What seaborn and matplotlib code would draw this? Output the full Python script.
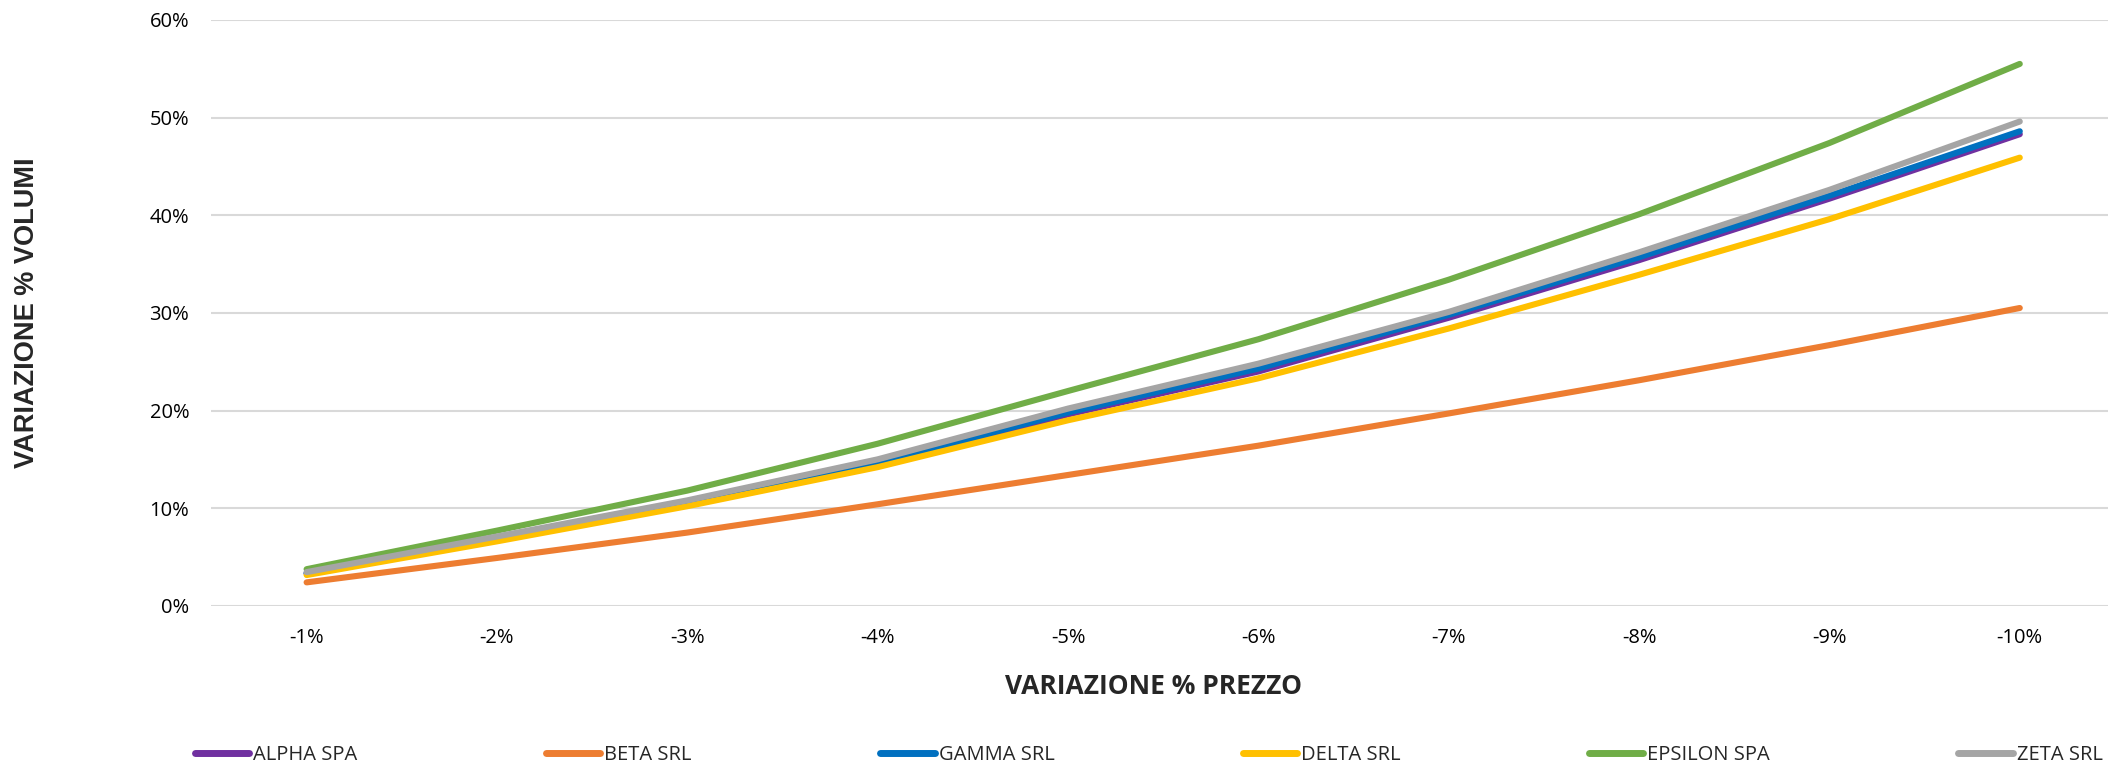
import matplotlib
matplotlib.use("Agg")
import matplotlib.pyplot as plt
from matplotlib.ticker import FuncFormatter
import pandas as pd
import seaborn as sns

# price change categories (x) and volume change per company (%)
prezzo = ["-1%", "-2%", "-3%", "-4%", "-5%", "-6%", "-7%", "-8%", "-9%", "-10%"]
alpha_spa = [3.3, 6.8, 10.5, 14.4, 19.6, 24.0, 29.5, 35.4, 41.7, 48.3]
beta_srl = [2.4, 4.9, 7.5, 10.4, 13.4, 16.4, 19.7, 23.1, 26.7, 30.5]
gamma_srl = [3.35, 6.9, 10.6, 14.6, 19.8, 24.3, 29.8, 35.7, 42.0, 48.6]
delta_srl = [3.15, 6.6, 10.2, 14.2, 19.0, 23.3, 28.4, 33.9, 39.6, 45.9]
epsilon_spa = [3.75, 7.7, 11.8, 16.6, 22.0, 27.3, 33.4, 40.1, 47.4, 55.5]
zeta_srl = [3.45, 7.1, 10.8, 15.0, 20.2, 24.8, 30.1, 36.2, 42.6, 49.6]

series = {
    "ALPHA SPA": alpha_spa,
    "BETA SRL": beta_srl,
    "GAMMA SRL": gamma_srl,
    "DELTA SRL": delta_srl,
    "EPSILON SPA": epsilon_spa,
    "ZETA SRL": zeta_srl,
}
colors = {
    "ALPHA SPA": "#7030A0",
    "BETA SRL": "#ED7D31",
    "GAMMA SRL": "#0070C0",
    "DELTA SRL": "#FFC000",
    "EPSILON SPA": "#70AD47",
    "ZETA SRL": "#A5A5A5",
}

rows = []
for name, vals in series.items():
    for p, v in zip(prezzo, vals):
        rows.append({"prezzo": p, "volumi": v, "azienda": name})
data = pd.DataFrame(rows)

sns.set_style("white")
plt.rcParams["font.family"] = ["Open Sans", "DejaVu Sans"]

figure = plt.figure(figsize=(21.08, 7.65), dpi=100)
axis = figure.add_axes([0.1003, 0.2081, 0.903, 0.7658])

sns.lineplot(data=data, x="prezzo", y="volumi", hue="azienda", palette=colors,
             linewidth=4.4, sort=False, legend=False, ax=axis,
             solid_capstyle="round")

axis.set_xlim(-0.5, 9.5)
axis.set_ylim(0, 60)
axis.set_yticks(range(0, 61, 10))
axis.yaxis.set_major_formatter(FuncFormatter(lambda v, _: f"{v:.0f}%"))
axis.grid(axis="y", color="#D9D9D9", linewidth=1.5)
axis.set_axisbelow(True)
for s in axis.spines.values():
    s.set_visible(False)
axis.tick_params(axis="both", length=0, labelsize=14.5, colors="#000000")
axis.tick_params(axis="y", pad=16)
axis.tick_params(axis="x", pad=16)

axis.set_xlabel("")
axis.set_ylabel("")
figure.text(0.547, 1 - 687 / 765, "VARIAZIONE % PREZZO", ha="center", va="center",
            fontsize=19, fontweight="bold")
figure.text(27 / 2108, 1 - 313 / 765, "VARIAZIONE % VOLUMI", ha="center", va="center",
            rotation=90, fontsize=19.5, fontweight="bold", family="Liberation Sans")

handles = [plt.Line2D([], [], color=colors[n], linewidth=5, solid_capstyle="round")
           for n in series]
figure.legend(handles, list(series.keys()), loc="lower left", ncol=6, mode="expand",
              bbox_to_anchor=(0.0925, 0.0, 0.905, 0.03), frameon=False,
              fontsize=14.5, handlelength=2.7, handletextpad=0.2,
              borderpad=0, borderaxespad=0)

figure.savefig("out.png", dpi=100)
